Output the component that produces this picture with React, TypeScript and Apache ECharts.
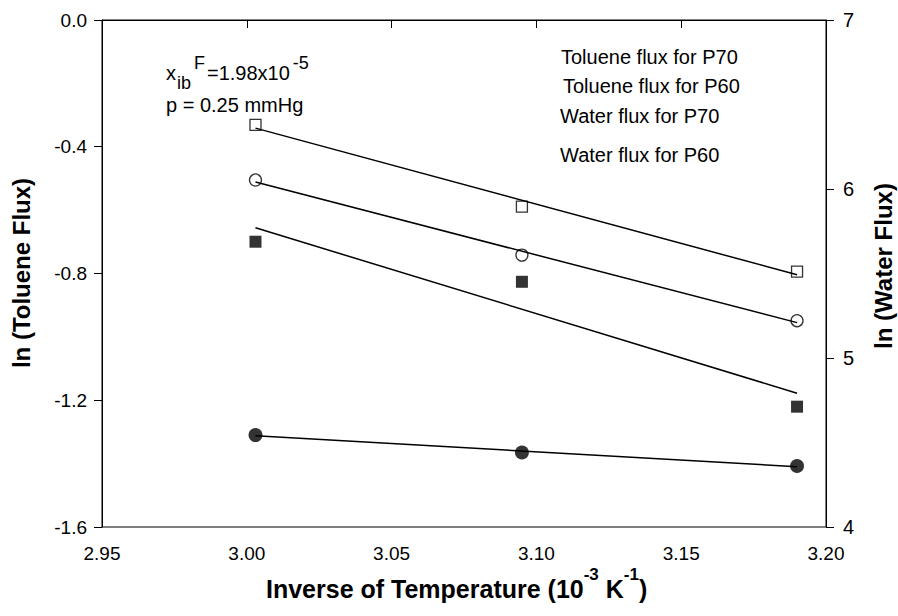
import React, { useEffect, useRef } from "react";
import * as echarts from "echarts";

const temps = [3.003, 3.095, 3.19];
const tolueneP70 = [-0.331, -0.589, -0.794];
const tolueneP60 = [-0.505, -0.742, -0.949];
const waterP70 = [5.688, 5.451, 4.712];
const waterP60 = [4.544, 4.441, 4.361];

const xTicks = { min: 2.95, max: 3.2, interval: 0.05 };
const leftTicks = { min: -1.6, max: 0, interval: 0.4 };
const rightTicks = { min: 4, max: 7, interval: 1 };

const legendLabels = [
  "Toluene flux for P70",
  "Toluene flux for P60",
  "Water flux for P70",
  "Water flux for P60",
];

function fitLine(xs: number[], ys: number[]): number[][] {
  const n = xs.length;
  const mx = xs.reduce((a, b) => a + b, 0) / n;
  const my = ys.reduce((a, b) => a + b, 0) / n;
  let sxy = 0;
  let sxx = 0;
  for (let i = 0; i < n; i++) {
    sxy += (xs[i] - mx) * (ys[i] - my);
    sxx += (xs[i] - mx) * (xs[i] - mx);
  }
  const slope = sxy / sxx;
  const x0 = xs[0];
  const x1 = xs[n - 1];
  return [
    [x0, my + slope * (x0 - mx)],
    [x1, my + slope * (x1 - mx)],
  ];
}

const pts = (ys: number[]) => temps.map((t, i) => [t, ys[i]]);

export default function App() {
  const ref = useRef<HTMLDivElement>(null);
  useEffect(() => {
    document.body.style.margin = "0";
    if (!ref.current) return;
    const chart = echarts.init(ref.current, null, { renderer: "svg" });
    const font = "Liberation Sans, Arial, sans-serif";
    const lineSeries = (ys: number[], axis: number) => ({
      type: "line",
      data: fitLine(temps, ys),
      yAxisIndex: axis,
      symbol: "none",
      lineStyle: { color: "#000", width: 1.5 },
      z: 5,
      silent: true,
    });
    const legendY = [58, 87, 117, 156];
    const legendX = [561, 563, 560, 560];
    chart.setOption({
      animation: false,
      textStyle: { fontFamily: font },
      grid: {
        left: 102,
        right: 72,
        top: 20,
        bottom: 89,
        show: true,
        borderColor: "#000",
        borderWidth: 1,
      },
      xAxis: {
        type: "value",
        min: xTicks.min,
        max: xTicks.max,
        interval: xTicks.interval,
        splitLine: { show: false },
        axisLine: { show: true, lineStyle: { color: "#000", width: 1 } },
        axisTick: { show: true, length: 8, lineStyle: { color: "#000" } },
        axisLabel: {
          color: "#000",
          fontSize: 19,
          fontFamily: font,
          margin: 17,
          formatter: (v: number) => v.toFixed(2),
        },
      },
      yAxis: [
        {
          type: "value",
          position: "left",
          min: leftTicks.min,
          max: leftTicks.max,
          interval: leftTicks.interval,
          splitLine: { show: false },
          axisLine: { show: true, lineStyle: { color: "#000", width: 1 } },
          axisTick: { show: true, length: 8, lineStyle: { color: "#000" } },
          axisLabel: {
            color: "#000",
            fontSize: 19,
            fontFamily: font,
            margin: 15,
            formatter: (v: number) => v.toFixed(1),
          },
        },
        {
          type: "value",
          position: "right",
          min: rightTicks.min,
          max: rightTicks.max,
          interval: rightTicks.interval,
          splitLine: { show: false },
          axisLine: { show: true, lineStyle: { color: "#000", width: 1 } },
          axisTick: { show: true, length: 8, lineStyle: { color: "#000" } },
          axisLabel: {
            color: "#000",
            fontSize: 20,
            fontFamily: font,
            margin: 17,
            formatter: (v: number) => String(v),
          },
        },
      ],
      series: [
        {
          name: legendLabels[0],
          type: "scatter",
          data: pts(tolueneP70),
          yAxisIndex: 0,
          symbol: "rect",
          symbolSize: 11,
          itemStyle: { color: "#fff", borderColor: "#000", borderWidth: 1.3 },
          z: 3,
        },
        {
          name: legendLabels[1],
          type: "scatter",
          data: pts(tolueneP60),
          yAxisIndex: 0,
          symbol: "circle",
          symbolSize: 12,
          itemStyle: { color: "#fff", borderColor: "#000", borderWidth: 1.3 },
          z: 3,
        },
        {
          name: legendLabels[2],
          type: "scatter",
          data: pts(waterP70),
          yAxisIndex: 1,
          symbol: "rect",
          symbolSize: 12,
          itemStyle: { color: "#000" },
          z: 3,
        },
        {
          name: legendLabels[3],
          type: "scatter",
          data: pts(waterP60),
          yAxisIndex: 1,
          symbol: "circle",
          symbolSize: 14,
          itemStyle: { color: "#000" },
          z: 3,
        },
        lineSeries(tolueneP70, 0),
        lineSeries(tolueneP60, 0),
        lineSeries(waterP70, 1),
        lineSeries(waterP60, 1),
      ],
      graphic: [
        ...legendLabels.map((t, i) => ({
          type: "text",
          left: legendX[i],
          top: legendY[i] - 11,
          style: { text: t, fontSize: 20, fontFamily: font, fill: "#000" },
        })),
        {
          type: "text",
          x: 166,
          y: 54,
          style: {
            text: "{m|x}{sub|ib}{supF|F}{m|=1.98x10}{sup|-5}",
            fontFamily: font,
            verticalAlign: "top",
            rich: {
              m: { fontSize: 20, lineHeight: 38, fontFamily: font, fill: "#000" },
              sub: { fontSize: 18, lineHeight: 16, verticalAlign: "bottom", fontFamily: font, fill: "#000", padding: [0, 0, 0, 1] },
              supF: { fontSize: 18, lineHeight: 16, verticalAlign: "top", fontFamily: font, fill: "#000", padding: [0, 2, 0, 3] },
              sup: { fontSize: 18, lineHeight: 16, verticalAlign: "top", fontFamily: font, fill: "#000", padding: [0, 0, 0, 3] },
            },
          },
        },
        {
          type: "text",
          x: 166,
          y: 105,
          style: {
            text: "p = 0.25 mmHg",
            fontSize: 20,
            fontFamily: font,
            fill: "#000",
            verticalAlign: "middle",
          },
        },
        {
          type: "text",
          x: 266,
          y: 566,
          style: {
            text: "{m|Inverse of Temperature (10}{sup|-3}{m| K}{sup|-1}{m|)}",
            fontFamily: font,
            verticalAlign: "top",
            rich: {
              m: { fontSize: 25, fontWeight: "bold", lineHeight: 46, fontFamily: font, fill: "#000" },
              sup: { fontSize: 17, fontWeight: "bold", lineHeight: 17, verticalAlign: "top", fontFamily: font, fill: "#000" },
            },
          },
        },
        {
          type: "text",
          x: 21,
          y: 273,
          rotation: Math.PI / 2,
          style: {
            text: "ln (Toluene Flux)",
            fontSize: 24,
            fontWeight: "bold",
            fontFamily: font,
            fill: "#000",
            align: "center",
            verticalAlign: "middle",
          },
        },
        {
          type: "text",
          x: 883,
          y: 266,
          rotation: Math.PI / 2,
          style: {
            text: "ln (Water Flux)",
            fontSize: 24,
            fontWeight: "bold",
            fontFamily: font,
            fill: "#000",
            align: "center",
            verticalAlign: "middle",
          },
        },
      ],
    });
    return () => chart.dispose();
  }, []);
  return <div ref={ref} style={{ width: 898, height: 616 }} />;
}
